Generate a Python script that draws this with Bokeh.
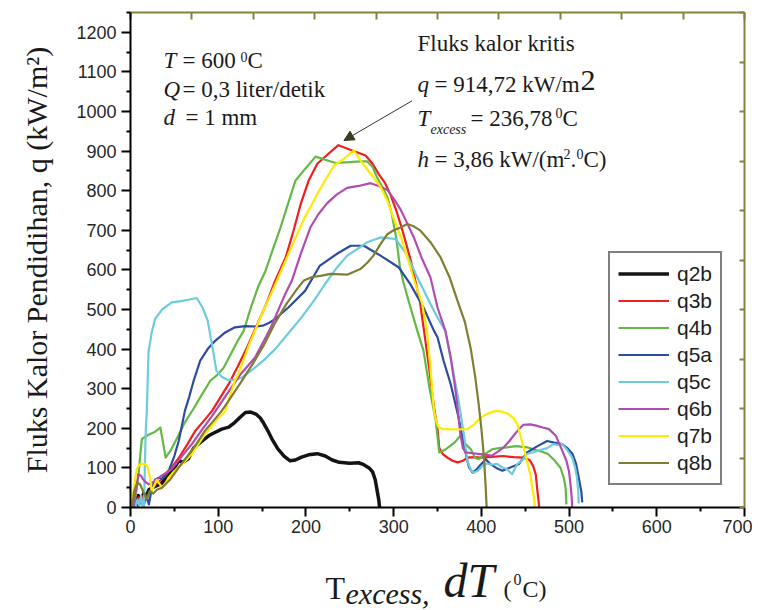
from bokeh.plotting import figure
from bokeh.models import (LinearAxis, FixedTicker, Label, Arrow, NormalHead,
                          Legend, LegendItem, Range1d, CustomJSTickFormatter)
from bokeh.layouts import column
from bokeh.embed import file_html
from bokeh.resources import INLINE

# ---------------- data ----------------
q2b_x = [3, 6, 9, 12, 15, 18, 21, 25, 30, 35, 40, 45, 50, 55, 60, 66, 72, 80, 89, 95, 104, 112, 119, 125,
         131, 137, 143, 148, 152, 157, 162, 168, 175, 182, 188, 195, 203, 213, 222, 230, 238, 250, 260, 266,
         272, 276, 279, 281, 283, 284]
q2b_y = [0, 15, 30, 20, 35, 28, 45, 50, 55, 60, 72, 85, 100, 118, 115, 123, 150, 165, 181, 188, 198, 203, 215, 228,
         240, 241, 236, 226, 212, 192, 170, 148, 130, 118, 120, 127, 133, 136, 130, 120, 114, 112, 113, 108,
         100, 90, 70, 45, 20, 0]

q3b_x = [3, 6, 9, 12, 15, 18, 22, 27, 35, 45, 55, 65, 74, 84, 93, 103, 112, 122, 132, 143, 154, 165, 177, 186,
         194, 203, 213, 225, 237, 252, 268, 276, 283, 290, 296, 303, 310, 320, 330, 340, 346, 350, 352, 356,
         362, 367, 373, 379, 384, 392, 399, 412, 425, 437, 448, 455, 459, 462, 464, 466]
q3b_y = [0, 10, 25, 15, 30, 20, 40, 55, 70, 95, 125, 160, 194, 220, 244, 280, 312, 355, 400, 455, 510, 573, 632, 700,
         766, 825, 868, 892, 915, 902, 889, 868, 842, 820, 792, 750, 700, 620, 520, 360, 253, 200, 150, 135,
         125, 118, 114, 118, 126, 127, 126, 128, 130, 127, 126, 120, 105, 84, 40, 0]

q4b_x = [3, 6, 9, 11, 13, 20, 27, 34, 37, 40, 46, 53, 62, 72, 80, 91, 99, 106, 115, 122, 129, 138, 146, 154, 162,
         171, 180, 188, 199, 211, 222, 234, 250, 262, 270, 276, 281, 287, 293, 298, 303, 307, 311, 317, 327,
         334, 341, 348, 352, 358, 365, 370, 376, 382, 388, 393, 397, 404, 412, 420, 429, 440, 452, 462, 470,
         476, 483, 490, 494, 496, 497]
q4b_y = [0, 30, 80, 130, 173, 183, 190, 202, 165, 126, 145, 175, 215, 250, 280, 320, 335, 352, 390, 420, 446, 510,
         560, 598, 650, 707, 770, 825, 855, 886, 878, 870, 872, 874, 874, 860, 834, 810, 783, 740, 680, 610,
         570, 522, 446, 396, 300, 219, 139, 145, 156, 165, 181, 160, 147, 125, 122, 135, 147, 150, 152, 155,
         152, 145, 140, 135, 120, 101, 75, 50, 8]

q5a_x = [3, 6, 9, 12, 15, 18, 21, 24, 28, 32, 36, 40, 44, 50, 55, 62, 67, 72, 79.5, 88, 96.5, 108, 119, 131, 144,
         152, 157, 165, 180, 199, 216, 235, 251, 266, 285, 306, 319, 334, 346, 350, 357, 365, 370, 374, 380,
         384, 386, 390, 395, 400, 405, 410, 417, 424, 433, 443, 452, 464, 475, 483, 492, 498, 504, 508, 511,
         514, 515]
q5a_y = [0, 10, 3, 15, 5, 30, 8, 45, 70, 75, 72, 85, 95, 130, 168, 244, 280, 320, 371, 400, 421, 442, 455, 458, 457,
         460, 465, 476, 505, 547, 611, 640, 661, 661, 636, 606, 564, 505, 446, 430, 370, 312, 265, 227, 160,
         118, 101, 88, 97, 110, 122, 110, 100, 93, 101, 110, 139, 155, 168, 164, 160, 150, 135, 110, 76,
         40, 13]

q5c_x = [5, 8, 10, 12, 14, 15.5, 16.5, 17.5, 18.6, 20.5, 24, 28, 36, 47, 60, 75.6, 82, 88, 93, 98, 104, 110, 118,
         127, 140, 152, 165, 180, 195, 210, 222, 235, 247, 258, 270, 285, 302, 313.5, 320, 327, 334, 342, 350,
         359, 367, 374, 380, 384, 388, 391, 396, 401, 406, 412, 418, 424, 429, 435, 441, 446, 452, 460, 467,
         475, 482, 487, 492, 498, 503.6, 507, 509, 510.5, 511]
q5c_y = [0, 20, 5, 30, 0, 10, 120, 200, 244, 392, 440, 476, 500, 518, 522, 529, 505, 472, 410, 345, 330, 323, 322,
         328, 350, 372, 400, 440, 480, 525, 565, 605, 636, 652, 670, 682, 678, 644, 615, 581, 550, 514, 480,
         446, 354, 270, 185, 118, 95, 88, 93, 105, 111, 108, 110, 101, 97, 84, 110, 118, 135, 140, 145,
         150, 160, 158, 160, 145, 126, 100, 76, 40, 10]

q6b_x = [3, 6, 9, 12, 14, 17, 20.5, 24, 28, 35, 41, 47, 58, 70, 81, 92.7, 108, 125, 142, 159, 176, 184, 194, 205,
         214, 224, 235, 247, 260, 273.6, 283, 292.7, 300, 308, 315, 323, 332, 342, 350, 359, 365, 369, 372,
         376, 379, 382, 390, 399, 405, 412, 418, 425.6, 432, 438, 443, 448, 456, 463.6, 470, 477, 485, 491,
         497, 500, 501.6, 503, 503.6]
q6b_y = [0, 40, 84, 80, 72, 65, 59, 62, 67, 80, 88, 97, 128, 160, 195, 230, 280, 335, 379, 450, 537, 573, 640, 707,
         740, 768, 790, 807, 812, 819, 812, 802, 780, 752, 720, 682, 630, 581, 505, 446, 379, 320, 270,
         185, 150, 139, 137, 135, 133, 131, 140, 152, 168, 185, 198, 209, 210, 206, 202, 198, 181, 150,
         118, 90, 59, 25, 0]

q7b_x = [1.5, 4, 7, 10, 13, 16, 19, 22.4, 24, 27, 30, 33, 36, 40, 43.6, 50, 60, 70, 85, 100, 108, 119, 123, 135,
         150, 163.4, 180, 198, 215, 231.8, 243, 254.6, 265, 277, 285, 292.7, 300, 308, 315.5, 324, 332.6, 338,
         342, 346, 349, 351.5, 356, 361, 372, 384, 392, 399, 407, 416, 424, 431, 437, 441, 446, 452, 456,
         458, 460, 461]
q7b_y = [8, 50, 97, 108, 110, 110, 105, 76, 42, 55, 70, 60, 50, 62, 76, 92, 112, 135, 185, 225, 244, 320, 337, 410,
         490, 555, 640, 730, 800, 863, 880, 901, 868, 834, 810, 775, 730, 685, 632, 570, 514, 446,
         350, 244, 215, 202, 198, 198, 197, 198, 210, 227, 237, 244, 242, 236, 225, 210, 170, 118, 80,
         50, 25, 0]

q8b_x = [2, 4, 7.6, 11, 15, 18.6, 22, 26, 30, 36, 45, 55, 65, 75, 85, 95, 104, 115, 127, 140, 152, 165, 178, 190,
         197.6, 207, 216.6, 228, 247, 262, 270, 277, 285, 292.7, 300, 308, 315.5, 323, 330.6, 342, 353.4, 364,
         374, 381, 388, 393, 397, 400, 403, 405, 406]
q8b_y = [0, 40, 63, 58, 38, 21, 42, 35, 45, 50, 70, 101, 130, 160, 194, 220, 244, 280, 320, 365, 410, 467, 515, 552,
         573, 582, 585, 590, 588, 602, 618, 636, 665, 690, 700, 707, 716, 710, 699, 670, 632, 580,
         514, 470, 400, 330, 260, 200, 126, 50, 0]

series_names = ["q2b", "q3b", "q4b", "q5a", "q5c", "q6b", "q7b", "q8b"]
series_x = [q2b_x, q3b_x, q4b_x, q5a_x, q5c_x, q6b_x, q7b_x, q8b_x]
series_y = [q2b_y, q3b_y, q4b_y, q5a_y, q5c_y, q6b_y, q7b_y, q8b_y]
series_colors = ["#141414", "#f01e1e", "#63b944", "#2c4ca0", "#6ccbdc", "#b24cb2", "#ffea00", "#7e7e34"]
series_widths = [3.5, 2.2, 2.2, 2.2, 2.2, 2.2, 2.2, 2.2]

x_ticks = [0, 100, 200, 300, 400, 500, 600, 700]
y_ticks = [0, 100, 200, 300, 400, 500, 600, 700, 800, 900, 1000, 1100, 1200]

y_title = "Fluks Kalor Pendidihan, q (kW/m\u00b2)"

crit_T = 236.78
crit_q = 914.72

# ---------------- geometry ----------------
L, R, T, B = 130, 8, 12, 38
FW, FH = 614, 495
MW, MH = L + FW + R, T + FH + B
XT_H = 610 - MH
X0, X1, Y0, Y1 = 0, 700, 0, 1250
BASE_SHIFT = 0.35      # Bokeh draws "alphabetic" text a little below the anchor

p = figure(width=MW, height=MH, x_range=Range1d(X0, X1), y_range=Range1d(Y0, Y1),
           output_backend="svg", toolbar_location=None, title=None,
           min_border_left=L, min_border_right=R, min_border_top=T, min_border_bottom=B)
p.grid.visible = False
p.outline_line_color = None
p.background_fill_color = "white"
p.border_fill_color = "white"

FRAME_LEFT = L
FRAME_TOP = T


def dx(px):
    return X0 + (px - FRAME_LEFT) * (X1 - X0) / FW


def dy(py):
    return Y0 + (FRAME_TOP + FH - py) * (Y1 - Y0) / FH


TICK_FONT = "Liberation Sans"
TICK_COLOR = "#262626"
SERIF = "Liberation Serif"
TXT = "#1a1a1a"
olive = "#84843a"

xa = p.xaxis[0]
xa.ticker = FixedTicker(ticks=x_ticks, minor_ticks=[v + 50 for v in x_ticks[:-1]])
ya = p.yaxis[0]
ya.ticker = FixedTicker(ticks=y_ticks, minor_ticks=[v + 50 for v in y_ticks])
for ax in (xa, ya):
    ax.axis_line_width = 2
    ax.axis_line_color = "black"
    ax.major_tick_in = 0
    ax.major_tick_out = 9
    ax.minor_tick_in = 0
    ax.minor_tick_out = 4
    ax.major_tick_line_width = 2
    ax.minor_tick_line_width = 2
    ax.major_tick_line_color = "black"
    ax.minor_tick_line_color = "black"
    ax.major_label_text_font = TICK_FONT
    ax.major_label_text_font_size = "18px"
    ax.major_label_text_color = TICK_COLOR
xa.major_label_standoff = 3
ya.major_label_standoff = 5
ya.axis_label = y_title
ya.axis_label_text_font = SERIF
ya.axis_label_text_font_size = "30px"
ya.axis_label_text_font_style = "normal"
ya.axis_label_text_color = TXT
ya.axis_label_standoff = 20

blank = CustomJSTickFormatter(code="return ''")
top_axis = LinearAxis(ticker=FixedTicker(ticks=[70 * i for i in range(11)]), formatter=blank,
                      major_tick_in=7, major_tick_out=0, minor_tick_in=0, minor_tick_out=0,
                      axis_line_color=olive, axis_line_width=2, major_tick_line_color=olive,
                      major_tick_line_width=2, major_label_standoff=0)
right_axis = LinearAxis(ticker=FixedTicker(ticks=[125 * i for i in range(11)]), formatter=blank,
                        major_tick_in=5, major_tick_out=0, minor_tick_in=0, minor_tick_out=0,
                        axis_line_color=olive, axis_line_width=2, major_tick_line_color=olive,
                        major_tick_line_width=2, major_label_standoff=0)
p.add_layout(top_axis, "above")
p.add_layout(right_axis, "right")

renderers = []
for xs, ys, c, w in zip(series_x, series_y, series_colors, series_widths):
    r = p.line(xs, ys, line_color=c, line_width=w, line_join="round")
    renderers.append(r)

legend = Legend(items=[LegendItem(label=n, renderers=[r]) for n, r in zip(series_names, renderers)],
                location=(478, 22), border_line_color="black", border_line_width=2,
                label_text_font=TICK_FONT, label_text_font_size="21px", label_text_color="#1e1e1e",
                glyph_width=51, glyph_height=25, label_height=25, spacing=2, padding=8,
                label_standoff=8, background_fill_color="white", background_fill_alpha=1, margin=0)
p.add_layout(legend)


def make_label(fig, text, x, y, size, italic=False):
    fig.add_layout(Label(x=x, y=y, text=text, text_font=SERIF,
                         text_font_size="%dpx" % size,
                         text_font_style="italic" if italic else "normal",
                         text_color=TXT, text_baseline="alphabetic", text_align="left"))


def lbl(text, px, py, size, italic=False):
    # py is the wanted page baseline
    make_label(p, text, dx(px), dy(py - BASE_SHIFT * size), size, italic)


# conditions block
lbl("T", 163, 68, 23, True)
lbl("= 600", 182, 68, 23)
lbl("0", 240, 61, 14)
lbl("C", 247, 68, 23)
lbl("Q", 163, 97, 23, True)
lbl("= 0,3 liter/detik", 182, 97, 23)
lbl("d", 163, 125, 23, True)
lbl("= 1 mm", 185, 125, 23)

# critical heat flux block
lbl("Fluks kalor kritis", 417, 51, 23)
lbl("q", 417, 92, 23, True)
lbl("= 914,72 kW/m", 434, 92, 23)
lbl("2", 580, 90, 30)
lbl("T", 417, 126, 23, True)
lbl("excess", 430, 134, 14, True)
lbl("= 236,78", 470, 126, 23)
lbl("0", 555, 117, 14)
lbl("C", 562, 126, 23)
lbl("h", 417, 167, 23, True)
lbl("= 3,86 kW/(m", 434, 167, 23)
lbl("2", 563, 158, 14)
lbl(".", 570, 167, 23)
lbl("0", 576, 158, 14)
lbl("C)", 583, 167, 23)

# arrow pointing at the critical point
arrow_from_T, arrow_from_q = 321.0, 1027.0
p.add_layout(Arrow(end=NormalHead(size=10, fill_color="#3c3c20", line_color="#3c3c20"),
                   x_start=arrow_from_T, y_start=arrow_from_q,
                   x_end=crit_T + 6.5, y_end=crit_q + 12,
                   line_color="#333333", line_width=1))

# ---------------- x-axis title strip ----------------
# inside a column Bokeh lines this strip's frame up with the chart's frame (page x L .. L+FW),
# so its x range is expressed in page pixels over that frame; y range is in page pixels too
xfig = figure(width=MW, height=XT_H, x_range=Range1d(L, L + FW), y_range=Range1d(MH + XT_H, MH),
              output_backend="svg", toolbar_location=None, title=None,
              x_axis_type=None, y_axis_type=None,
              min_border=0, min_border_left=0, min_border_right=0,
              min_border_top=0, min_border_bottom=0)
xfig.grid.visible = False
xfig.outline_line_color = None
xfig.background_fill_color = "white"
xfig.border_fill_color = "white"


def xlbl(text, px, py, size, italic=False):
    make_label(xfig, text, px, py - BASE_SHIFT * size, size, italic)


xlbl("T", 325, 599, 32)
xlbl("excess,", 345, 603, 30, True)
xlbl("dT", 443, 597, 48, True)
xlbl("(", 503, 597, 24)
xlbl("0", 513, 585, 16)
xlbl("C)", 522, 597, 24)

layout = column(p, xfig, spacing=0)
open("out.html", "w").write(file_html(layout, INLINE))
